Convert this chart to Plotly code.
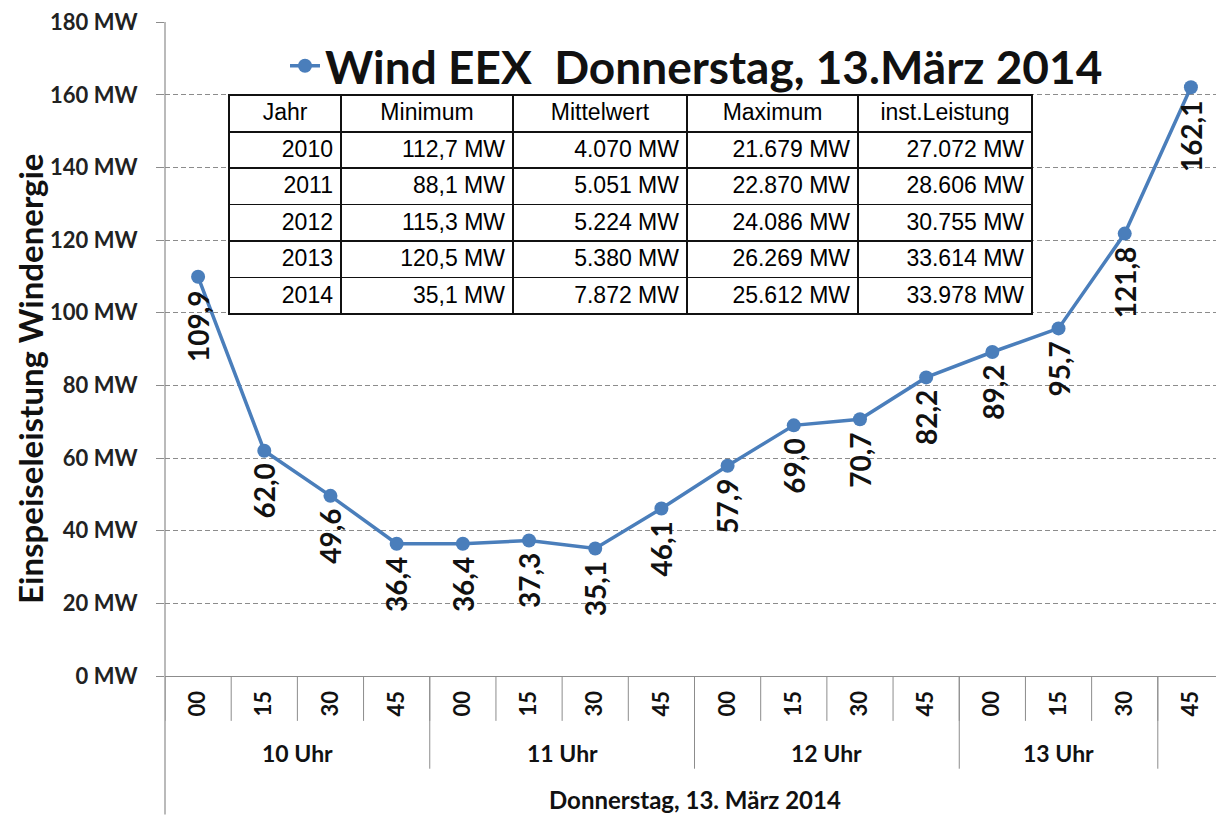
import plotly.graph_objects as go

# ---------------- data ----------------
minutes = ["00", "15", "30", "45", "00", "15", "30", "45",
           "00", "15", "30", "45", "00", "15", "30", "45"]
hours = ["10 Uhr"] * 4 + ["11 Uhr"] * 4 + ["12 Uhr"] * 4 + ["13 Uhr"] * 3 + [""]
values = [109.9, 62.0, 49.6, 36.4, 36.4, 37.3, 35.1, 46.1,
          57.9, 69.0, 70.7, 82.2, 89.2, 95.7, 121.8, 162.1]

y_ticks = [0, 20, 40, 60, 80, 100, 120, 140, 160, 180]
y_ticktext = [f"{v} MW" for v in y_ticks]

tbl_header = ["Jahr", "Minimum", "Mittelwert", "Maximum", "inst.Leistung"]
tbl_years = ["2010", "2011", "2012", "2013", "2014"]
tbl_min = ["112,7 MW", "88,1 MW", "115,3 MW", "120,5 MW", "35,1 MW"]
tbl_mean = ["4.070 MW", "5.051 MW", "5.224 MW", "5.380 MW", "7.872 MW"]
tbl_max = ["21.679 MW", "22.870 MW", "24.086 MW", "26.269 MW", "25.612 MW"]
tbl_inst = ["27.072 MW", "28.606 MW", "30.755 MW", "33.614 MW", "33.978 MW"]

title_text = "Wind EEX  Donnerstag, 13.März 2014"
y_title = "Einspeiseleistung Windenergie"
x_title = "Donnerstag, 13. März 2014"

# ---------------- layout geometry ----------------
# page is rendered with an 8px body margin, so the figure is 8px smaller
OFF = 8
PAGE_W, PAGE_H = 1224, 815
W, H = PAGE_W - OFF, PAGE_H - OFF
PLOT_L, PLOT_T, PLOT_B, PLOT_R = 165, 20, 676, 1224   # page pixels
ML, MT = PLOT_L - OFF, PLOT_T - OFF
MR = PAGE_W - PLOT_R
MB = PAGE_H - PLOT_B
PW, PH = PLOT_R - PLOT_L, PLOT_B - PLOT_T

def px_to_paper_y(py):
    return (PLOT_B - py) / PH

def px_to_paper_x(px):
    return (px - PLOT_L) / PW

BLUE = "#4A7EBB"
GRID = "#8C8C8C"
FONT = "Lato"
TFONT = "Liberation Sans Narrow, Arial Narrow, Liberation Sans, Arial"

xs = list(range(len(values)))

fig = go.Figure()
fig.add_trace(go.Scatter(
    x=xs, y=values, mode="lines+markers", name=title_text,
    line=dict(color=BLUE, width=3.5),
    marker=dict(color=BLUE, size=14),
    showlegend=True, hoverinfo="skip",
))

# table
tbl_font = dict(family=TFONT, size=23, color="#000")
fig.add_trace(go.Table(
    domain=dict(x=[px_to_paper_x(229), px_to_paper_x(1032)],
                y=[px_to_paper_y(316), px_to_paper_y(93)]),
    columnwidth=[112, 172, 174, 171, 174],
    header=dict(values=tbl_header, align="center", height=37,
                fill_color="white", line=dict(color="#111", width=1.5),
                font=tbl_font),
    cells=dict(values=[tbl_years, tbl_min, tbl_mean, tbl_max, tbl_inst],
               align="right", height=36.4,
               fill_color="white", line=dict(color="#111", width=1.5),
               font=tbl_font),
))

annotations = []
# data labels (rotated, below points)
for xi, v in zip(xs, values):
    annotations.append(dict(
        x=xi, y=v, xref="x", yref="y",
        text=f"{v:.1f}".replace(".", ","),
        textangle=-90, showarrow=False,
        xanchor="center", yanchor="top", yshift=-11,
        font=dict(family=FONT, size=28, color="#111", weight="bold"),
    ))

shapes = []
# minute dividers
for k in range(len(minutes) + 1):
    shapes.append(dict(type="line", xref="x", yref="paper",
                       x0=k - 0.5, x1=k - 0.5,
                       y0=0, y1=px_to_paper_y(721),
                       line=dict(color=GRID, width=1)))
# hour groups: dividers and labels
groups = []
start = 0
for i in range(1, len(hours) + 1):
    if i == len(hours) or hours[i] != hours[start]:
        groups.append((hours[start], start, i - 1))
        start = i
for name, s, e in groups:
    shapes.append(dict(type="line", xref="x", yref="paper",
                       x0=e + 0.5, x1=e + 0.5,
                       y0=0, y1=px_to_paper_y(769),
                       line=dict(color=GRID, width=1)))
    if name:
        annotations.append(dict(
            x=(s + e) / 2, y=px_to_paper_y(753), xref="x", yref="paper",
            text=name, showarrow=False, xanchor="center", yanchor="middle",
            font=dict(family=FONT, size=23, color="#111", weight="bold"),
        ))
# y axis line extended to bottom
shapes.append(dict(type="line", xref="paper", yref="paper",
                   x0=0, x1=0, y0=1, y1=px_to_paper_y(PAGE_H),
                   line=dict(color=GRID, width=1.2)))

# x axis title
annotations.append(dict(
    x=0.5, y=px_to_paper_y(800), xref="paper", yref="paper",
    text=x_title, showarrow=False, xanchor="center", yanchor="middle",
    font=dict(family=FONT, size=24, color="#111", weight="bold"),
))
# y axis title
annotations.append(dict(
    x=px_to_paper_x(30), y=px_to_paper_y(378), xref="paper", yref="paper",
    text=y_title, showarrow=False, textangle=-90,
    xanchor="center", yanchor="middle",
    font=dict(family=FONT, size=33, color="#111", weight="bold"),
))

fig.update_layout(
    width=W, height=H,
    margin=dict(l=ML, r=MR, t=MT, b=MB, pad=0),
    paper_bgcolor="white", plot_bgcolor="white",
    showlegend=True,
    legend=dict(x=px_to_paper_x(285), y=px_to_paper_y(64),
                xanchor="left", yanchor="middle",
                font=dict(family=FONT, size=46, color="#111", weight="bold"),
                bgcolor="rgba(0,0,0,0)", itemwidth=30),
    annotations=annotations,
    shapes=shapes,
    xaxis=dict(
        range=[-0.5, len(values) - 0.5],
        tickmode="array", tickvals=xs, ticktext=minutes,
        tickangle=-90, ticks="", showgrid=False, zeroline=False,
        showline=True, linecolor=GRID, linewidth=1.2,
        tickfont=dict(family=FONT, size=22, color="#111", weight="bold"),
        ticklabelstandoff=5,
    ),
    yaxis=dict(
        range=[0, 180.05], tickmode="array", tickvals=y_ticks, ticktext=y_ticktext,
        showgrid=True, gridcolor=GRID, griddash="5px,3px", gridwidth=1,
        zeroline=False, showline=False,
        ticks="outside", ticklen=8, tickcolor=GRID,
        tickfont=dict(family=FONT, size=22, color="#222", weight="bold"),
        ticklabelstandoff=14, ticklabeloverflow="allow",
    ),
)

fig.write_html("out.html")
